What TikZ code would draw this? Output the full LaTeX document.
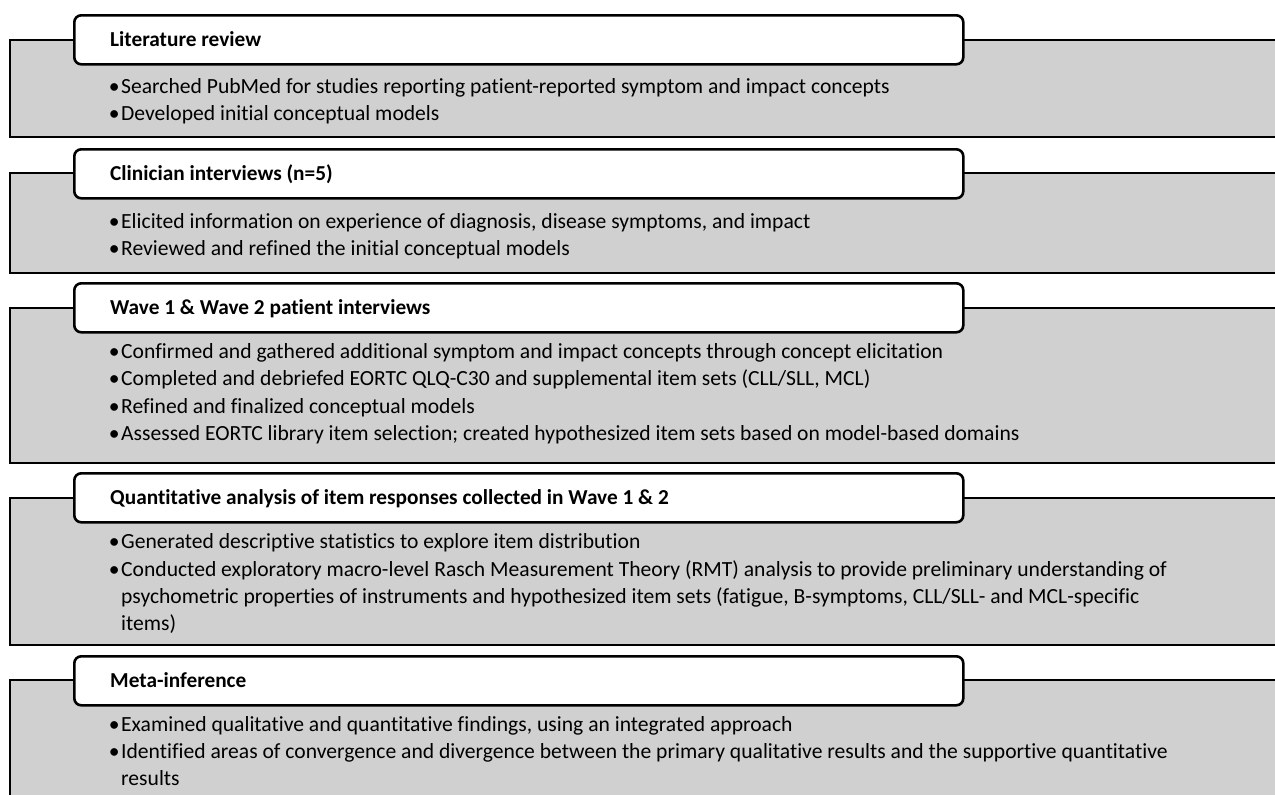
\documentclass[tikz,border=0pt]{standalone}
\usepackage{fontspec}
\setmainfont{Carlito}[Ligatures=NoCommon]
\definecolor{boxgray}{RGB}{208,208,208}
\tikzset{
  graybox/.style={fill=boxgray, draw=black, line width=2.6pt},
  headbox/.style={fill=white, draw=black, line width=2.6pt, rounded corners=7pt, anchor=north west, minimum width=889pt, minimum height=49pt, inner sep=0pt},
  ttl/.style={anchor=base west, inner sep=0pt, font=\fontsize{21.3}{26}\selectfont\bfseries},
  bul/.style={anchor=base west, inner sep=0pt, font=\fontsize{21.6}{26}\selectfont},
}
\newcommand{\bl}{\llap{\textbullet\hspace{1.5pt}}}
\begin{document}
\begin{tikzpicture}[x=1pt,y=-1pt]
\useasboundingbox (0,0) rectangle (1275,795);
\clip (0,0) rectangle (1275,795);
% Box 1
\draw[graybox] (10,40) rectangle (1290,137);
\node[headbox] (h1) at (73,14) {};
\node[ttl] (t1) at (110,46) {Literature review};
\node[bul] (b11) at (121,93) {\bl Searched PubMed for studies reporting patient-reported symptom and impact concepts};
\node[bul] (b12) at (121,120) {\bl Developed initial conceptual models};
% Box 2
\draw[graybox] (10,173) rectangle (1290,273);
\node[headbox] (h2) at (73,148) {};
\node[ttl] (t2) at (110,180) {Clinician interviews (n=5)};
\node[bul] (b21) at (121,228) {\bl Elicited information on experience of diagnosis, disease symptoms, and impact};
\node[bul] (b22) at (121,255) {\bl Reviewed and refined the initial conceptual models};
% Box 3
\draw[graybox] (10,308) rectangle (1290,463);
\node[headbox] (h3) at (73,282) {};
\node[ttl] (t3) at (110,314) {Wave 1 \& Wave 2 patient interviews};
\node[bul] (b31) at (121,358) {\bl Confirmed and gathered additional symptom and impact concepts through concept elicitation};
\node[bul] (b32) at (121,385) {\bl Completed and debriefed EORTC QLQ-C30 and supplemental item sets (CLL/SLL, MCL)};
\node[bul] (b33) at (121,413) {\bl Refined and finalized conceptual models};
\node[bul] (b34) at (121,440) {\bl Assessed EORTC library item selection; created hypothesized item sets based on model-based domains};
% Box 4
\draw[graybox] (10,498) rectangle (1290,645);
\node[headbox] (h4) at (73,472) {};
\node[ttl] (t4) at (110,504) {Quantitative analysis of item responses collected in Wave 1 \& 2};
\node[bul] (b41) at (121,548) {\bl Generated descriptive statistics to explore item distribution};
\node[bul] (b42) at (121,576) {\bl Conducted exploratory macro-level Rasch Measurement Theory (RMT) analysis to provide preliminary understanding of};
\node[bul] (b43) at (121,603) {psychometric properties of instruments and hypothesized item sets (fatigue, B-symptoms, CLL/SLL- and MCL-specific};
\node[bul] (b44) at (121,630) {items)};
% Box 5
\draw[graybox] (10,680) rectangle (1290,820);
\node[headbox] (h5) at (73,655) {};
\node[ttl] (t5) at (110,687) {Meta-inference};
\node[bul] (b51) at (121,731) {\bl Examined qualitative and quantitative findings, using an integrated approach};
\node[bul] (b52) at (121,758) {\bl Identified areas of convergence and divergence between the primary qualitative results and the supportive quantitative};
\node[bul] (b53) at (121,785) {results};
\end{tikzpicture}
\end{document}
